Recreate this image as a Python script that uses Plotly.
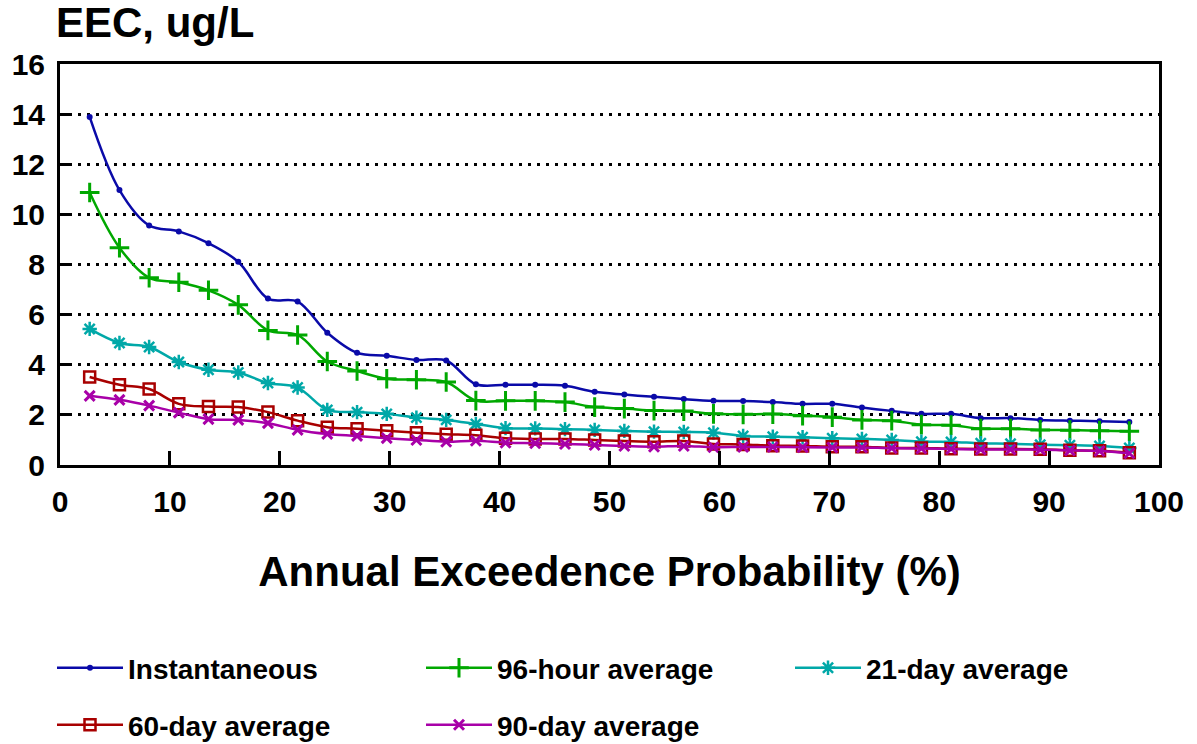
import plotly.graph_objects as go

# Annual exceedence probability (%) of each ranked year
prob = [2.70, 5.41, 8.11, 10.81, 13.51, 16.22, 18.92, 21.62, 24.32, 27.03,
        29.73, 32.43, 35.14, 37.84, 40.54, 43.24, 45.95, 48.65, 51.35, 54.05,
        56.76, 59.46, 62.16, 64.86, 67.57, 70.27, 72.97, 75.68, 78.38, 81.08,
        83.78, 86.49, 89.19, 91.89, 94.59, 97.30]

# EEC values, ug/L
instantaneous = [13.89, 10.97, 9.56, 9.32, 8.85, 8.11, 6.64, 6.52, 5.28, 4.48,
                 4.36, 4.19, 4.17, 3.22, 3.20, 3.20, 3.16, 2.92, 2.81, 2.72,
                 2.63, 2.56, 2.55, 2.51, 2.44, 2.44, 2.29, 2.16, 2.04, 2.04,
                 1.87, 1.87, 1.80, 1.77, 1.75, 1.72]
avg_96h = [10.87, 8.67, 7.47, 7.29, 6.97, 6.39, 5.37, 5.19, 4.13, 3.75,
           3.44, 3.40, 3.31, 2.57, 2.56, 2.56, 2.51, 2.31, 2.25, 2.17,
           2.15, 2.04, 2.02, 2.03, 1.97, 1.91, 1.80, 1.77, 1.61, 1.59,
           1.45, 1.45, 1.40, 1.39, 1.37, 1.35]
avg_21d = [5.43, 4.87, 4.71, 4.11, 3.80, 3.69, 3.27, 3.09, 2.20, 2.11,
           2.04, 1.89, 1.80, 1.64, 1.47, 1.46, 1.43, 1.40, 1.36, 1.33,
           1.32, 1.29, 1.16, 1.13, 1.11, 1.07, 1.04, 1.00, 0.93, 0.92,
           0.87, 0.85, 0.81, 0.79, 0.76, 0.68]
avg_60d = [3.51, 3.20, 3.03, 2.44, 2.33, 2.31, 2.11, 1.77, 1.51, 1.45,
           1.37, 1.29, 1.23, 1.19, 1.07, 1.04, 1.04, 1.00, 0.96, 0.93,
           0.96, 0.84, 0.82, 0.77, 0.76, 0.73, 0.73, 0.68, 0.68, 0.65,
           0.64, 0.64, 0.63, 0.59, 0.57, 0.49]
avg_90d = [2.76, 2.60, 2.37, 2.09, 1.83, 1.80, 1.67, 1.40, 1.24, 1.16,
           1.07, 1.00, 0.93, 0.97, 0.89, 0.87, 0.84, 0.80, 0.76, 0.73,
           0.76, 0.71, 0.72, 0.72, 0.71, 0.70, 0.70, 0.67, 0.66, 0.64,
           0.62, 0.62, 0.61, 0.58, 0.56, 0.47]

x_ticks = [0, 10, 20, 30, 40, 50, 60, 70, 80, 90, 100]
y_ticks = [0, 2, 4, 6, 8, 10, 12, 14, 16]

FONT = "Liberation Sans, Arial, sans-serif"

# name, values, colour, marker, legend slot (column px, row centre px)
series = [
    ("Instantaneous", instantaneous, "#0a0aa8", dict(symbol="circle", size=6), (52, 668)),
    ("96-hour average", avg_96h, "#00a800", dict(symbol="cross-thin-open", size=14, line=dict(width=3)), (421, 668)),
    ("21-day average", avg_21d, "#00a8a8", dict(symbol="asterisk-open", size=12, line=dict(width=2.5)), (790, 668)),
    ("60-day average", avg_60d, "#a80000", dict(symbol="square-open", size=11, line=dict(width=2.5)), (52, 725)),
    ("90-day average", avg_90d, "#a800a8", dict(symbol="x-thin-open", size=10, line=dict(width=3)), (421, 725)),
]

W, H = 1197, 744
legend_font = dict(family=FONT, size=28, color="black", weight="bold")

fig = go.Figure()
legends = {}
for i, (name, vals, color, marker, (lx, ly)) in enumerate(series):
    key = "legend" if i == 0 else f"legend{i + 1}"
    m = dict(color=color, **marker)
    if "line" in m:
        m["line"] = dict(color=color, **m["line"])
    fig.add_trace(go.Scatter(
        x=prob, y=vals, name=name, mode="lines+markers",
        line=dict(color=color, width=2.5, shape="spline", smoothing=1),
        marker=m, legend=key,
    ))
    legends[key] = dict(
        orientation="h", xref="container", yref="container",
        x=lx / W, y=1 - ly / H, xanchor="left", yanchor="middle",
        font=legend_font, bgcolor="rgba(0,0,0,0)", itemwidth=66,
    )

axis_common = dict(
    showline=True, linecolor="black", linewidth=3, mirror=True,
    ticks="inside", tickcolor="black", tickwidth=3,
    tickfont=dict(family=FONT, size=30, color="black", weight="bold"),
    zeroline=False,
)

fig.update_xaxes(
    range=[0, 100], tickvals=x_ticks, ticklen=14, showgrid=False,
    ticklabelstandoff=8,
    title=dict(text="Annual Exceedence Probability (%)", standoff=40,
               font=dict(family=FONT, size=42, color="black", weight="bold")),
    **axis_common,
)
fig.update_yaxes(
    range=[0, 16], tickvals=y_ticks, ticklen=12,
    showgrid=True, gridcolor="black", gridwidth=2.5, griddash="3px,6px",
    ticklabelstandoff=6,
    **axis_common,
)

fig.update_layout(
    width=W, height=H,
    margin=dict(l=58, r=38, t=64, b=279),
    paper_bgcolor="white", plot_bgcolor="white",
    showlegend=True,
    annotations=[dict(
        text="EEC, ug/L", xref="paper", yref="paper", x=0, y=1,
        xshift=-6, yshift=16, xanchor="left", yanchor="bottom", showarrow=False,
        font=dict(family=FONT, size=42, color="black", weight="bold"),
    )],
    **legends,
)

fig.write_html("out.html")
